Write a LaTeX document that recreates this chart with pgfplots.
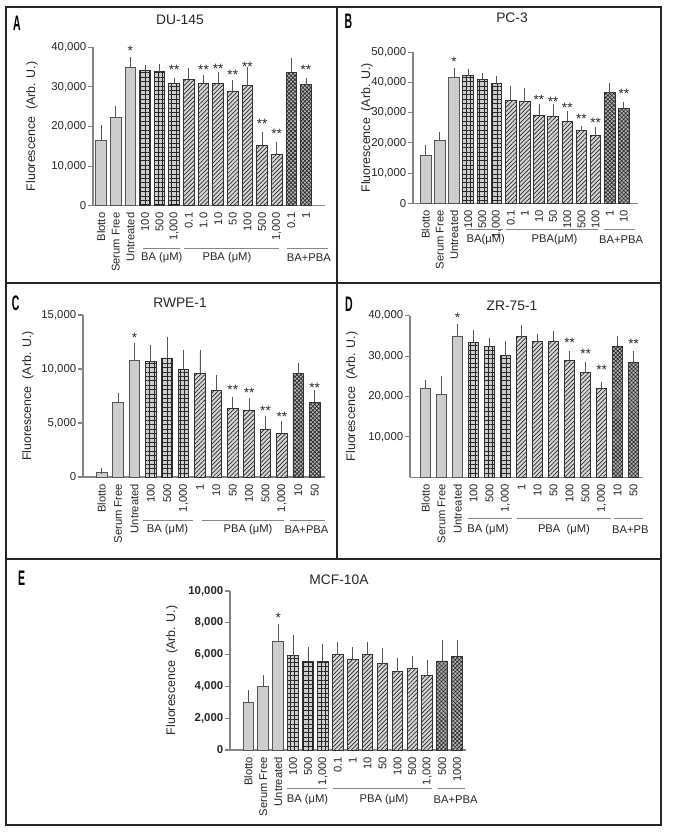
\documentclass[border=0pt]{standalone}
\usepackage{fontspec}
\setmainfont{Liberation Sans}
\usepackage{graphicx}
\usepackage{pgfplots}
\usepackage{pgfplotstable}
\pgfplotsset{compat=1.18}
\usetikzlibrary{patterns.meta}
\definecolor{barfill}{HTML}{CDCDCD}
\definecolor{hatchfill}{HTML}{D6D6D6}
\definecolor{crossfill}{HTML}{B4B4B4}
\definecolor{barline}{HTML}{555555}
\definecolor{axgray}{HTML}{858585}

\pgfplotstableread{
x y e
0 16550 3200
1 22270 2270
2 34870 2020
3 34200 670
4 33870 1170
5 30760 840
6 31930 2190
7 30920 1350
8 30920 2020
9 28900 2100
10 30340 4030
11 15210 2690
12 12860 2600
13 33700 2860
14 30590 1010
}\tabA
\pgfplotstableread{
x y s
2 39900 *
5 35040 **
7 35040 **
8 35380 **
9 33780 **
10 35880 **
11 21340 **
12 18900 **
14 35040 **
}\starA
\pgfplotstableread{
x y e
0 15930 2530
1 20660 1870
2 41760 2200
3 42310 1320
4 41100 1210
5 39780 1430
6 34180 3620
7 33630 3620
8 29230 2860
9 28680 3190
10 27140 2530
11 24180 550
12 22310 1980
13 36590 2310
14 31430 1210
}\tabB
\pgfplotstableread{
x y s
2 47900 *
8 35270 **
9 34730 **
10 32750 **
11 29010 **
12 27800 **
14 37360 **
}\starB
\pgfplotstableread{
x y e
0 460 120
1 6910 590
2 10800 1390
3 10680 1300
4 11020 1670
5 9970 1540
6 9600 1910
7 8025 1200
8 6360 830
9 6170 930
10 4410 960
11 4040 840
12 9570 770
13 6910 890
}\tabC
\pgfplotstableread{
x y s
2 13210 *
8 8360 **
9 8060 **
10 6420 **
11 5860 **
13 8520 **
}\starC
\pgfplotstableread{
x y e
0 22070 1320
1 20580 3720
2 34960 2310
3 33390 2310
4 32310 1570
5 30170 2970
6 34790 2320
7 33720 1160
8 33640 1810
9 29010 1650
10 26030 1900
11 21980 1000
12 32480 1730
13 28510 2150
}\tabD
\pgfplotstableread{
x y s
2 40250 *
9 33970 **
10 31320 **
11 27270 **
13 33800 **
}\starD
\pgfplotstableread{
x y e
0 3020 570
1 4000 570
2 6830 920
3 5930 1130
4 5580 710
5 5580 920
6 6000 590
7 5700 610
8 6020 610
9 5430 800
10 4930 710
11 5120 590
12 4700 800
13 5600 1150
14 5890 880
}\tabE
\pgfplotstableread{
x y s
2 8490 *
}\starE

\tikzset{
  grp/.style={axgray, line width=0.45pt},
  glab/.style={font=\fontsize{5.6}{6}\selectfont, text=black!85},
}
\pgfplotsset{
  panel/.style={
    scale only axis,
    axis x line*=bottom, axis y line*=left,
    axis line style={axgray, line width=0.55pt},
    ymin=0, clip=false,
    tick align=outside,
    major tick length=2.5pt,
    ytick style={axgray, line width=0.55pt},
    xtick style={draw=none},
    scaled y ticks=false,
    y tick label style={/pgf/number format/fixed, /pgf/number format/1000 sep={,}, /pgf/number format/assume math mode=true, font=\fontsize{5.7}{6}\selectfont, inner sep=0.7pt, text=black!85},
    x tick label style={rotate=90, anchor=east, font=\fontsize{5.6}{6}\selectfont, inner sep=0.8pt, text=black!85},
    ylabel={Fluorescence\ \ (Arb. U.)},
    every axis y label/.style={rotate=90, anchor=center, font=\fontsize{6.2}{7}\selectfont, text=black!85},
  },
  bbase/.style={ybar, bar width=5.3pt, bar shift=0pt, line width=0.45pt},
  plainbar/.style={bbase, fill=barfill, draw=barline},
  babar/.style={bbase, fill=barfill, draw=black!80, postaction={pattern color=black!85, pattern={Hatch[angle=0,distance=2.2pt,line width=0.35pt]}}},
  pbabar/.style={bbase, fill=hatchfill, draw=black!80, postaction={pattern color=black!85, pattern={Lines[angle=45,distance=1.5pt,line width=0.35pt]}}},
  combar/.style={bbase, fill=crossfill, draw=black!80, postaction={pattern color=black!85, pattern={Hatch[angle=45,distance=1.4pt,line width=0.32pt]}}},
  ebar/.style={error bars/.cd, y dir=plus, y explicit, error mark=-, error mark options={barline, line width=0.45pt, mark size=1.4pt}, error bar style={barline, line width=0.45pt}},
  stars/.style={draw=none, mark=none, nodes near coords, point meta=explicit symbolic,
    nodes near coords style={anchor=base, inner sep=0pt, yshift=-3.9pt, font=\fontsize{6.8}{7}\selectfont, text=black!85}},
}

\begin{document}
\begin{tikzpicture}
\useasboundingbox (0,0) rectangle (342pt,417pt);
% frames
\draw[line width=0.8pt, black!85] (3pt,413.5pt) rectangle (330.5pt,4.5pt);
\draw[line width=0.8pt, black!85] (3pt,275.5pt) -- (330.5pt,275.5pt);
\draw[line width=0.8pt, black!85] (3pt,137.5pt) -- (330.5pt,137.5pt);
\draw[line width=0.8pt, black!85] (168.5pt,413.5pt) -- (168.5pt,137.5pt);
% letters
\begin{scope}[every node/.style={font=\bfseries\fontsize{10.5}{10.5}\selectfont}]
\node at (8.5pt,405.3pt) {\scalebox{0.5}[1]{A}};
\node at (174.2pt,406.5pt) {\scalebox{0.5}[1]{B}};
\node at (7.8pt,265.5pt) {\scalebox{0.5}[1]{C}};
\node at (174.5pt,265pt) {\scalebox{0.5}[1]{D}};
\node at (10.8pt,127.8pt) {\scalebox{0.5}[1]{E}};
\end{scope}
% titles
\begin{scope}[every node/.style={font=\fontsize{6.9}{7}\selectfont, text=black!85}]
\node at (90pt,407pt) {DU-145};
\node at (256pt,408pt) {PC-3};
\node at (90pt,265.5pt) {RWPE-1};
\node at (256pt,264pt) {ZR-75-1};
\node at (169.5pt,127pt) {MCF-10A};
\end{scope}

% ---------- A ----------
\begin{axis}[panel, at={(46.5pt,314.15pt)}, anchor=south west, width=116pt, height=79.2pt,
  xmin=-0.55, xmax=15.3, ymax=40000, ytick={0,10000,20000,30000,40000},
  xtick={0,...,14},
  xticklabels={Blotto,Serum Free,Untreated,100,500,{1,000},0.1,1.0,10,50,100,500,{1,000},0.1,1},
  every axis y label/.append style={at={([xshift=-30.5pt]axis description cs:0,0.5)}}]
\addplot[plainbar, ebar] table[x=x,y=y,y error=e, restrict x to domain=-1:2.5] {\tabA};
\addplot[babar, ebar] table[x=x,y=y,y error=e, restrict x to domain=2.5:5.5] {\tabA};
\addplot[pbabar, ebar] table[x=x,y=y,y error=e, restrict x to domain=5.5:12.5] {\tabA};
\addplot[combar, ebar] table[x=x,y=y,y error=e, restrict x to domain=12.5:15] {\tabA};
\addplot[stars] table[x=x,y=y,meta=s] {\starA};
\draw[grp] ([yshift=-21.3pt]axis cs:2.87,0) -- ([yshift=-21.3pt]axis cs:5.4,0);
\draw[grp] ([yshift=-21.3pt]axis cs:5.7,0) -- ([yshift=-21.3pt]axis cs:12.13,0);
\draw[grp] ([yshift=-21.3pt]axis cs:12.7,0) -- ([yshift=-21.3pt]axis cs:15.5,0);
\node[glab] at ([yshift=-26pt]axis cs:4.15,0) {BA (μM)};
\node[glab] at ([yshift=-26pt]axis cs:8.6,0) {PBA (μM)};
\node[glab] at ([yshift=-26pt]axis cs:14.2,0) {BA+PBA};
\end{axis}

% ---------- B ----------
\begin{axis}[panel, at={(206.5pt,315.35pt)}, anchor=south west, width=112.5pt, height=75.5pt,
  xmin=-0.9, xmax=15.0, ymax=50000, ytick={0,10000,20000,30000,40000,50000},
  xtick={0,...,14},
  xticklabels={Blotto,Serum Free,Untreated,100,500,{1,000},0.1,1,10,50,100,500,100,1,10},
  every axis y label/.append style={at={([xshift=-23pt]axis description cs:0,0.5)}}]
\addplot[plainbar, ebar] table[x=x,y=y,y error=e, restrict x to domain=-1:2.5] {\tabB};
\addplot[babar, ebar] table[x=x,y=y,y error=e, restrict x to domain=2.5:5.5] {\tabB};
\addplot[pbabar, ebar] table[x=x,y=y,y error=e, restrict x to domain=5.5:12.5] {\tabB};
\addplot[combar, ebar] table[x=x,y=y,y error=e, restrict x to domain=12.5:15] {\tabB};
\addplot[stars] table[x=x,y=y,meta=s] {\starB};
\draw[grp] ([yshift=-13.3pt]axis cs:2.84,0) -- ([yshift=-13.3pt]axis cs:5.46,0);
\draw[grp] ([yshift=-13.3pt]axis cs:5.64,0) -- ([yshift=-13.3pt]axis cs:12.2,0);
\draw[grp] ([yshift=-13.3pt]axis cs:12.6,0) -- ([yshift=-13.3pt]axis cs:14.8,0);
\node[glab] at ([yshift=-18.3pt]axis cs:4.24,0) {BA(μM)};
\node[glab] at ([yshift=-18.3pt]axis cs:9.1,0) {PBA(μM)};
\node[glab] at ([yshift=-18.3pt]axis cs:13.8,0) {BA+PBA};
\end{axis}

% ---------- C ----------
\begin{axis}[panel, at={(41.5pt,178.5pt)}, anchor=south west, width=121pt, height=81pt,
  xmin=-1.14, xmax=13.63, ymax=15000, ytick={0,5000,10000,15000},
  xtick={0,...,13},
  xticklabels={Blotto,Serum Free,Untreated,100,500,{1,000},1,10,50,100,500,{1,000},10,50},
  every axis y label/.append style={at={([xshift=-27.5pt]axis description cs:0,0.5)}}]
\addplot[plainbar, ebar] table[x=x,y=y,y error=e, restrict x to domain=-1:2.5] {\tabC};
\addplot[babar, ebar] table[x=x,y=y,y error=e, restrict x to domain=2.5:5.5] {\tabC};
\addplot[pbabar, ebar] table[x=x,y=y,y error=e, restrict x to domain=5.5:11.5] {\tabC};
\addplot[combar, ebar] table[x=x,y=y,y error=e, restrict x to domain=11.5:14] {\tabC};
\addplot[stars] table[x=x,y=y,meta=s] {\starC};
\draw[grp] ([yshift=-21.5pt]axis cs:2.52,0) -- ([yshift=-21.5pt]axis cs:5.57,0);
\draw[grp] ([yshift=-21.5pt]axis cs:6.12,0) -- ([yshift=-21.5pt]axis cs:11.1,0);
\draw[grp] ([yshift=-21.5pt]axis cs:11.5,0) -- ([yshift=-21.5pt]axis cs:13.6,0);
\node[glab] at ([yshift=-26.5pt]axis cs:4.02,0) {BA (μM)};
\node[glab] at ([yshift=-26.5pt]axis cs:8.93,0) {PBA (μM)};
\node[glab] at ([yshift=-26.5pt]axis cs:12.5,0) {BA+PBA};
\end{axis}

% ---------- D ----------
\begin{axis}[panel, at={(205pt,178.35pt)}, anchor=south west, width=116.5pt, height=80.8pt,
  xmin=-0.97, xmax=13.59, ymax=40000, ytick={10000,20000,30000,40000},
  xtick={0,...,13},
  xticklabels={Blotto,Serum Free,Untreated,100,500,{1,000},1,10,50,100,500,{1,000},10,50},
  every axis y label/.append style={at={([xshift=-29pt]axis description cs:0,0.5)}}]
\addplot[plainbar, ebar] table[x=x,y=y,y error=e, restrict x to domain=-1:2.5] {\tabD};
\addplot[babar, ebar] table[x=x,y=y,y error=e, restrict x to domain=2.5:5.5] {\tabD};
\addplot[pbabar, ebar] table[x=x,y=y,y error=e, restrict x to domain=5.5:11.5] {\tabD};
\addplot[combar, ebar] table[x=x,y=y,y error=e, restrict x to domain=11.5:14] {\tabD};
\addplot[stars] table[x=x,y=y,meta=s] {\starD};
\draw[grp] ([yshift=-20.5pt]axis cs:2.67,0) -- ([yshift=-20.5pt]axis cs:5.39,0);
\draw[grp] ([yshift=-20.5pt]axis cs:5.7,0) -- ([yshift=-20.5pt]axis cs:11.6,0);
\draw[grp] ([yshift=-20.5pt]axis cs:11.8,0) -- ([yshift=-20.5pt]axis cs:13.6,0);
\node[glab] at ([yshift=-26.3pt]axis cs:3.9,0) {BA (μM)};
\node[glab] at ([yshift=-26.3pt]axis cs:8.65,0) {PBA\ \ (μM)};
\node[glab] at ([yshift=-26.3pt]axis cs:12.8,0) {BA+PB};
\end{axis}

% ---------- E ----------
\begin{axis}[panel, at={(115pt,42pt)}, anchor=south west, width=118pt, height=79.5pt,
  xmin=-1.23, xmax=14.6, ymax=10000, ytick={0,2000,4000,6000,8000,10000},
  y tick label style={font=\bfseries\fontsize{5.7}{6}\selectfont},
  xtick={0,...,14},
  xticklabels={Blotto,Serum Free,Untreated,100,500,{1,000},0.1,1,10,50,100,500,{1,000},500,1000},
  every axis y label/.append style={at={([xshift=-29pt]axis description cs:0,0.5)}}]
\addplot[plainbar, ebar] table[x=x,y=y,y error=e, restrict x to domain=-1:2.5] {\tabE};
\addplot[babar, ebar] table[x=x,y=y,y error=e, restrict x to domain=2.5:5.5] {\tabE};
\addplot[pbabar, ebar] table[x=x,y=y,y error=e, restrict x to domain=5.5:12.5] {\tabE};
\addplot[combar, ebar] table[x=x,y=y,y error=e, restrict x to domain=12.5:15] {\tabE};
\addplot[stars] table[x=x,y=y,meta=s] {\starE};
\draw[grp] ([yshift=-19.2pt]axis cs:2.57,0) -- ([yshift=-19.2pt]axis cs:5.26,0);
\draw[grp] ([yshift=-19.2pt]axis cs:5.66,0) -- ([yshift=-19.2pt]axis cs:12.3,0);
\draw[grp] ([yshift=-19.2pt]axis cs:12.7,0) -- ([yshift=-19.2pt]axis cs:14.5,0);
\node[glab] at ([yshift=-24.7pt]axis cs:3.97,0) {BA (μM)};
\node[glab] at ([yshift=-24.7pt]axis cs:9.1,0) {PBA (μM)};
\node[glab] at ([yshift=-24.7pt]axis cs:13.9,0) {BA+PBA};
\end{axis}
\end{tikzpicture}
\end{document}
